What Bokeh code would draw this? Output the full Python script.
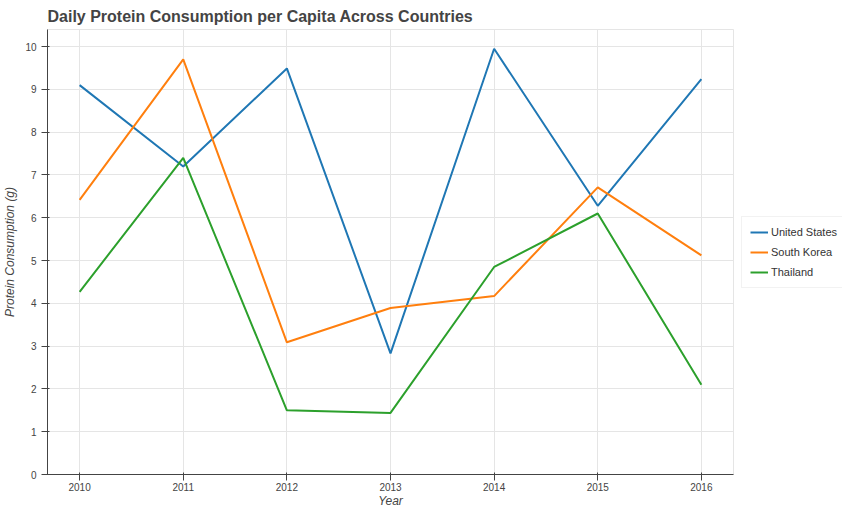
from bokeh.plotting import figure
from bokeh.models import Legend, Range1d, FixedTicker
from bokeh.embed import file_html
from bokeh.resources import INLINE

years = [2010, 2011, 2012, 2013, 2014, 2015, 2016]
united_states = [9.10, 7.20, 9.49, 2.83, 9.95, 6.28, 9.24]
south_korea = [6.42, 9.70, 3.09, 3.89, 4.17, 6.71, 5.12]
thailand = [4.27, 7.40, 1.50, 1.44, 4.85, 6.10, 2.10]

series = [
    ("United States", united_states, "#1f77b4"),
    ("South Korea", south_korea, "#ff7f0e"),
    ("Thailand", thailand, "#2ca02c"),
]

p = figure(frame_width=686, frame_height=445, output_backend="svg", toolbar_location=None,
           title="Daily Protein Consumption per Capita Across Countries",
           x_range=Range1d(2009.69, 2016.31), y_range=Range1d(0, 10.4),
           min_border_left=5, min_border_right=0, min_border_top=5, min_border_bottom=0)

items = []
for name, vals, color in series:
    r = p.line(years, vals, line_color=color, line_width=2)
    items.append((name, [r]))

legend = Legend(items=items, location=(8, 186))
legend.label_text_font = "Liberation Sans"
legend.label_text_font_size = "11px"
legend.label_text_color = "#333333"
legend.border_line_color = "#e5e5e5"
legend.glyph_width = 18
legend.glyph_height = 14
legend.label_height = 14
legend.label_standoff = 3
legend.spacing = 6
legend.padding = 8
legend.margin = 8
p.add_layout(legend, "right")

p.title.text_font = "Liberation Sans"
p.title.text_font_size = "16px"
p.title.text_font_style = "bold"
p.title.text_color = "#444444"

p.xaxis.axis_label = "Year"
p.yaxis.axis_label = "Protein Consumption (g)"
for ax in (p.xaxis, p.yaxis):
    ax.axis_label_text_font = "Liberation Sans"
    ax.axis_label_text_font_style = "italic"
    ax.axis_label_text_font_size = "12px"
    ax.axis_label_text_color = "#444444"
    ax.major_label_text_font = "Liberation Sans"
    ax.major_label_text_font_size = "10px"
    ax.major_label_text_color = "#444444"
    ax.minor_tick_line_color = None
    ax.axis_line_color = "#444444"
    ax.major_tick_line_color = "#444444"

p.xaxis.major_label_standoff = 2
p.xaxis.axis_label_standoff = 0
p.yaxis.major_label_standoff = 5
p.yaxis.axis_label_standoff = 5

p.xaxis.ticker = FixedTicker(ticks=years)
p.yaxis.ticker = FixedTicker(ticks=list(range(0, 11)))

p.xgrid.grid_line_color = "#e5e5e5"
p.ygrid.grid_line_color = "#e5e5e5"
p.outline_line_color = "#e5e5e5"
p.background_fill_color = "white"
p.border_fill_color = "white"

open("out.html", "w").write(file_html(p, INLINE))
